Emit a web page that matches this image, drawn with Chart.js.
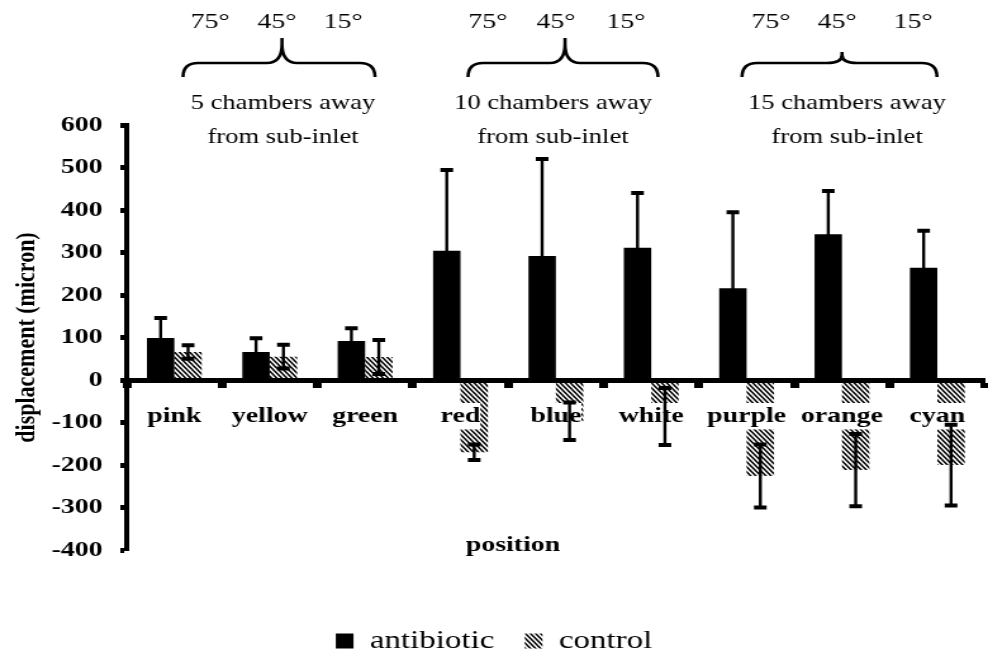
<!DOCTYPE html>
<html>
<head>
<meta charset="utf-8">
<script src="https://cdn.jsdelivr.net/npm/chart.js@4.4.1/dist/chart.umd.min.js"></script>
<style>
  html, body { margin: 0; padding: 0; background: #fff; overflow: hidden; }
</style>
</head>
<body>
<!-- o gráfico original está esticado na horizontal -->
<canvas id="chart" width="780" height="664" style="display:block;width:988px;height:664px"></canvas>
<script>
// dados
var positions = ['pink', 'yellow', 'green', 'red', 'blue', 'white', 'purple', 'orange', 'cyan'];
var antibiotic = [99, 66, 92, 304, 292, 311, 216, 343, 264];
var antibioticErr = [47, 32, 30, 190, 228, 129, 179, 102, 87];
var control = [66, 55, 54, -170, -97, -86, -226, -212, -200];
var controlErr = [16, 28, 40, 18, 44, 67, 74, 85, 95];
var angles = ['75°', '45°', '15°'];
var groups = ['5 chambers away', '10 chambers away', '15 chambers away'];

Chart.defaults.font.family = "'Liberation Serif', 'Times New Roman', serif";
Chart.defaults.color = '#000';

var canvas = document.getElementById('chart');
var ctx = canvas.getContext('2d');

// padrão listrado para o controle
function hatch() {
  var c = document.createElement('canvas');
  c.width = 4; c.height = 5;
  var g = c.getContext('2d');
  g.fillStyle = '#fff';
  g.fillRect(0, 0, 4, 5);
  g.strokeStyle = '#000';
  g.lineWidth = 1.5;
  g.beginPath();
  g.moveTo(-0.8, -1); g.lineTo(4.8, 6);
  g.moveTo(-0.8, 4); g.lineTo(0.8, 6);
  g.moveTo(3.2, -1); g.lineTo(4.8, 1);
  g.stroke();
  return ctx.createPattern(c, 'repeat');
}
var stripes = hatch();

// barras de erro (para cima e para baixo)
var errorBars = {
  id: 'errorBars',
  afterDraw: function(chart) {
    var c = chart.ctx, y = chart.scales.y;
    [antibioticErr, controlErr].forEach(function(errs, d) {
      var vals = chart.data.datasets[d].data;
      chart.getDatasetMeta(d).data.forEach(function(bar, i) {
        var top = y.getPixelForValue(vals[i] + errs[i]);
        var bot = y.getPixelForValue(vals[i] - errs[i]);
        c.save();
        c.strokeStyle = '#000';
        c.lineWidth = 2.4;
        c.beginPath();
        c.moveTo(bar.x, top); c.lineTo(bar.x, bot);
        c.stroke();
        c.lineWidth = 4;
        c.beginPath();
        c.moveTo(bar.x - 5, top); c.lineTo(bar.x + 5, top);
        c.moveTo(bar.x - 5, bot); c.lineTo(bar.x + 5, bot);
        c.stroke();
        c.restore();
      });
    });
  }
};

// anotações de cima (ângulos, chaves, grupos) e título do eixo x
var notes = {
  id: 'notes',
  afterDraw: function(chart) {
    var c = chart.ctx;
    var sx = chart.width / 988;
    var degX = [[210, 277, 343], [488, 556, 626], [771, 837, 913]];
    var braces = [[183, 375, 282, 38], [468, 658, 565, 38], [742, 937, 842, 52]];
    var textX = [283, 553, 847];
    c.save();
    c.fillStyle = '#000';
    c.strokeStyle = '#000';
    c.textAlign = 'center';
    c.textBaseline = 'middle';
    c.font = "22px 'Liberation Serif'";
    degX.forEach(function(row) {
      row.forEach(function(x, k) { c.fillText(angles[k], x * sx, 22); });
    });
    c.lineWidth = 2.6;
    braces.forEach(function(b) {
      var x0 = b[0] * sx, x1 = b[1] * sx, t = b[2] * sx, r = 12;
      c.beginPath();
      c.moveTo(x0, 77);
      c.quadraticCurveTo(x0, 63, x0 + r, 63);
      c.lineTo(t - r, 63);
      c.quadraticCurveTo(t, 63, t, Math.min(55, b[3] + 6));
      c.lineTo(t, b[3]);
      c.moveTo(t, Math.min(55, b[3] + 6));
      c.quadraticCurveTo(t, 63, t + r, 63);
      c.lineTo(x1 - r, 63);
      c.quadraticCurveTo(x1, 63, x1, 77);
      c.stroke();
    });
    c.font = "21px 'Liberation Serif'";
    groups.forEach(function(g, k) {
      c.fillText(g, textX[k] * sx, 103);
      c.fillText('from sub-inlet', textX[k] * sx, 137);
    });
    c.font = "bold 22px 'Liberation Serif'";
    c.fillText('position', 513 * sx, 545);
    c.restore();
  }
};

var myChart = new Chart(ctx, {
  type: 'bar',
  data: {
    labels: positions,
    datasets: [{
      label: 'antibiotic',
      data: antibiotic,
      backgroundColor: '#000',
      borderWidth: 0
    }, {
      label: 'control',
      data: control,
      backgroundColor: stripes,
      borderWidth: 0
    }]
  },
  options: {
    responsive: false,
    animation: false,
    events: [],
    categoryPercentage: 0.575,
    barPercentage: 1,
    layout: { padding: { top: 125, left: 0, right: 0, bottom: 0 } },
    scales: {
      x: {
        position: { y: 0 },
        grid: { display: true, drawOnChartArea: false, drawTicks: true, tickLength: 5, tickWidth: 7, tickColor: '#000', offset: true, z: 1 },
        border: { display: true, color: '#000', width: 5, z: 1 },
        ticks: {
          font: { size: 22, weight: 'bold' }, color: '#000', padding: 18,
          maxRotation: 0, autoSkip: false, z: 1,
          showLabelBackdrop: true, backdropColor: '#fff', backdropPadding: 0
        }
      },
      y: {
        min: -400,
        max: 600,
        ticks: { stepSize: 100, font: { size: 22, weight: 'bold' }, color: '#000', padding: 14 },
        grid: { drawOnChartArea: false, drawTicks: true, tickLength: 5, tickWidth: 5, tickColor: '#000' },
        border: { color: '#000', width: 4 },
        title: { display: true, text: 'displacement (micron)', font: { size: 22, weight: 'bold' }, color: '#000', padding: { top: 8, bottom: 0 } },
        afterFit: function(s) { s.width = 100; }
      }
    },
    plugins: {
      tooltip: { enabled: false },
      legend: {
        position: 'bottom',
        labels: { font: { size: 26 }, color: '#000', boxWidth: 14, boxHeight: 15, padding: 24 },
        title: { display: true, text: '', font: { size: 10 }, padding: { top: 42, bottom: 0 } }
      }
    }
  },
  plugins: [errorBars, notes]
});
</script>
</body>
</html>
